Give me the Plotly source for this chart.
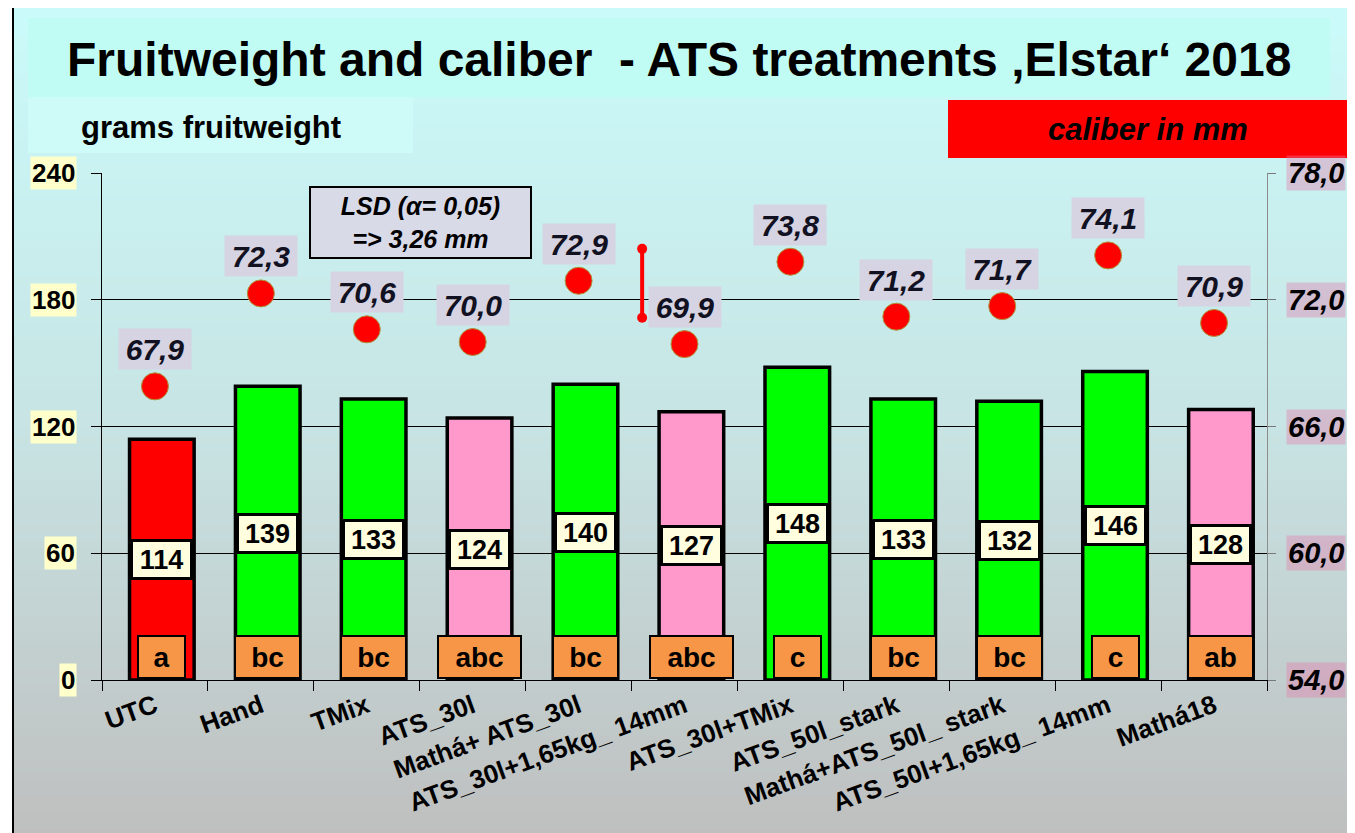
import plotly.graph_objects as go

# ---------------- data ----------------
categories = ["UTC", "Hand", "TMix", "ATS_30l", "Mathá+ ATS_30l",
              "ATS_30l+1,65kg_ 14mm", "ATS_30l+TMix", "ATS_50l_stark",
              "Mathá+ATS_50l_ stark", "ATS_50l+1,65kg_ 14mm", "Mathá18"]
fruit_weight = [114, 139, 133, 124, 140, 127, 148, 133, 132, 146, 128]
caliber = [67.9, 72.3, 70.6, 70.0, 72.9, 69.9, 73.8, 71.2, 71.7, 74.1, 70.9]
letters = ["a", "bc", "bc", "abc", "bc", "abc", "c", "bc", "bc", "c", "ab"]
bar_groups = ["control", "green", "green", "pink", "green", "pink",
              "green", "green", "green", "green", "pink"]
weight_ticks = [0, 60, 120, 180, 240]
caliber_ticks = [54.0, 60.0, 66.0, 72.0, 78.0]
lsd_value = 3.26
lsd_low = 71.15
lsd_x = 4.6

# ---------------- styles ----------------
FONT = "Liberation Sans, Arial, sans-serif"
group_colors = {"control": "#FF0000", "green": "#00FF00", "pink": "#FF99CC"}
BAR_W = 0.61
BAR_SHIFT = 0.065          # bars sit slightly right of the category centre

W, H = 1355, 833          # screen size
OFF = 8                   # default page body margin
L, R, T, B = 102, 1267, 173, 680   # plot area in screen pixels


def px(x):
    return (x - L) / (R - L)


def py(y):
    return (B - y) / (B - T)


def comma(v):
    return f"{v:.1f}".replace(".", ",")


fig = go.Figure()

fig.add_trace(go.Bar(
    x=list(range(len(categories))), y=fruit_weight,
    marker=dict(color=[group_colors[g] for g in bar_groups],
                line=dict(color="black", width=3.5)),
    width=BAR_W, offset=-BAR_W / 2 + BAR_SHIFT,
    yaxis="y", hoverinfo="skip", showlegend=False))

fig.add_trace(go.Scatter(
    x=list(range(len(categories))), y=caliber, yaxis="y2", mode="markers",
    marker=dict(color="#FF0000", size=27,
                line=dict(color="rgb(170,150,60)", width=1)),
    showlegend=False, hoverinfo="skip"))

fig.add_trace(go.Scatter(
    x=[lsd_x, lsd_x], y=[lsd_low, lsd_low + lsd_value], yaxis="y2",
    mode="lines+markers", line=dict(color="#FF0000", width=4),
    marker=dict(color="#FF0000", size=10), showlegend=False, hoverinfo="skip"))

shapes = []
# gradient background
stops = [(0.0, (202, 251, 250)), (0.5, (200, 228, 228)), (1.0, (191, 191, 191))]


def grad(t):
    for (t0, c0), (t1, c1) in zip(stops[:-1], stops[1:]):
        if t0 <= t <= t1:
            f = (t - t0) / (t1 - t0)
            return tuple(round(a + (b - a) * f) for a, b in zip(c0, c1))
    return stops[-1][1]


n = 110
y_top, y_bot = 6, 834
for k in range(n):
    y0 = y_top + (y_bot - y_top) * k / n
    y1 = y_top + (y_bot - y_top) * (k + 1) / n + 0.8
    c = grad((k + 0.5) / n)
    shapes.append(dict(type="rect", xref="paper", yref="paper", layer="below",
                       x0=px(12), x1=px(1360), y0=py(y0), y1=py(min(y1, 840)),
                       fillcolor=f"rgb{c}", line=dict(width=0)))

# title box and subtitle box
shapes.append(dict(type="rect", xref="paper", yref="paper", layer="below",
                   x0=px(28), x1=px(1330), y0=py(18), y1=py(97),
                   fillcolor="rgb(193,252,244)", line=dict(width=0)))
shapes.append(dict(type="rect", xref="paper", yref="paper", layer="below",
                   x0=px(28), x1=px(413), y0=py(97), y1=py(153),
                   fillcolor="rgb(206,250,248)", line=dict(width=0)))
# red caliber box
shapes.append(dict(type="rect", xref="paper", yref="paper", layer="below",
                   x0=px(948), x1=px(1347), y0=py(100), y1=py(158),
                   fillcolor="#FF0000", line=dict(width=0)))
# frame lines
shapes.append(dict(type="line", xref="paper", yref="paper", layer="above",
                   x0=px(13), x1=px(13), y0=py(6), y1=py(840),
                   line=dict(color="black", width=2)))
shapes.append(dict(type="line", xref="paper", yref="paper", layer="above",
                   x0=px(12), x1=px(1360), y0=py(7), y1=py(7),
                   line=dict(color="black", width=2)))

annotations = []
annotations.append(dict(
    xref="paper", yref="paper", x=px(679), y=py(60), xanchor="center", yanchor="middle",
    text="<b>Fruitweight and caliber  - ATS treatments ‚Elstar‘ 2018</b>",
    showarrow=False, font=dict(family=FONT, size=48, color="black")))
annotations.append(dict(
    xref="paper", yref="paper", x=px(79), y=py(127), xanchor="left", yanchor="middle",
    text="<b>grams fruitweight</b>", showarrow=False,
    font=dict(family=FONT, size=31, color="black")))
annotations.append(dict(
    xref="paper", yref="paper", x=px(1148), y=py(129), xanchor="center", yanchor="middle",
    text="<b><i>caliber in mm</i></b>", showarrow=False,
    font=dict(family=FONT, size=31, color="black")))
annotations.append(dict(
    xref="paper", yref="paper", x=px(420.5), y=py(222.5), xanchor="center", yanchor="middle",
    text="<b><i>LSD (α= 0,05)<br>=> 3,26 mm</i></b>",
    showarrow=False, width=219, height=69, bgcolor="rgb(216,218,232)",
    bordercolor="black", borderwidth=2, borderpad=0,
    font=dict(family=FONT, size=25, color="black")))

# left tick labels
for v in weight_ticks:
    annotations.append(dict(
        xref="paper", yref="y", x=px(77), y=v, xanchor="right", yanchor="middle",
        text=f"<b>{v}</b>", showarrow=False, bgcolor="#FFFFCC", borderpad=1,
        font=dict(family=FONT, size=26, color="black")))
# right tick labels
for v in caliber_ticks:
    annotations.append(dict(
        xref="paper", yref="y2", x=px(1286), y=v, xanchor="left", yanchor="middle",
        text=f"<b><i>{comma(v)}</i></b>", showarrow=False,
        bgcolor="rgba(230,120,170,0.38)", borderpad=1,
        font=dict(family=FONT, size=29, color="black")))

# value labels, letters, caliber labels
for i, (w, lt, c) in enumerate(zip(fruit_weight, letters, caliber)):
    annotations.append(dict(
        xref="x", yref="y", x=i + BAR_SHIFT, y=w / 2, xanchor="center", yanchor="middle",
        text=f"<b>{w}</b>", showarrow=False, bgcolor="#FFFFE0",
        bordercolor="black", borderwidth=3, width=57, height=35, borderpad=0,
        font=dict(family=FONT, size=27, color="black")))
    annotations.append(dict(
        xref="x", yref="y", x=i + BAR_SHIFT, y=0, xanchor="center", yanchor="bottom",
        yshift=1, text=f"<b>{lt}</b>", showarrow=False, bgcolor="#F79646",
        bordercolor="black", borderwidth=2, width=18 * len(lt) + 27, height=40,
        borderpad=0, font=dict(family=FONT, size=28, color="black")))
    annotations.append(dict(
        xref="x", yref="y2", x=i, y=c, xanchor="center", yanchor="middle", yshift=37,
        text=f"<b><i>{comma(c)}</i></b>", showarrow=False,
        bgcolor="rgb(214,212,226)", width=72, height=40, borderpad=0,
        font=dict(family=FONT, size=30, color="#111122")))

fig.update_layout(
    width=W - OFF, height=H - OFF,
    margin=dict(l=L - OFF, r=W - R, t=T - OFF, b=H - B, pad=0),
    paper_bgcolor="white", plot_bgcolor="rgba(0,0,0,0)",
    showlegend=False,
    shapes=shapes, annotations=annotations,
    xaxis=dict(range=[-0.5, len(categories) - 0.5], tickmode="array",
               tickvals=list(range(len(categories))), ticktext=categories,
               tickangle=-20, ticks="", showline=True, linecolor="black", linewidth=1,
               showgrid=False, zeroline=False,
               tickfont=dict(family=FONT, size=26, color="black", weight="bold"),
               minor=dict(tickmode="array",
                          tickvals=[i - 0.5 for i in range(len(categories) + 1)],
                          ticks="outside", ticklen=10, tickcolor="black", tickwidth=1,
                          showgrid=False)),
    yaxis=dict(range=[0, 240], tickmode="array", tickvals=weight_ticks,
               showticklabels=False, ticks="outside", ticklen=10, tickcolor="black",
               showline=True, linecolor="black", linewidth=1,
               showgrid=True, gridcolor="black", gridwidth=1, zeroline=False),
    yaxis2=dict(range=[54, 78], overlaying="y", side="right", tickmode="array",
                tickvals=caliber_ticks, showticklabels=False, ticks="outside",
                ticklen=8, tickcolor="rgb(120,120,120)", showline=True,
                linecolor="rgb(140,140,140)", linewidth=1, showgrid=False,
                zeroline=False),
)

fig.write_html("out.html")
